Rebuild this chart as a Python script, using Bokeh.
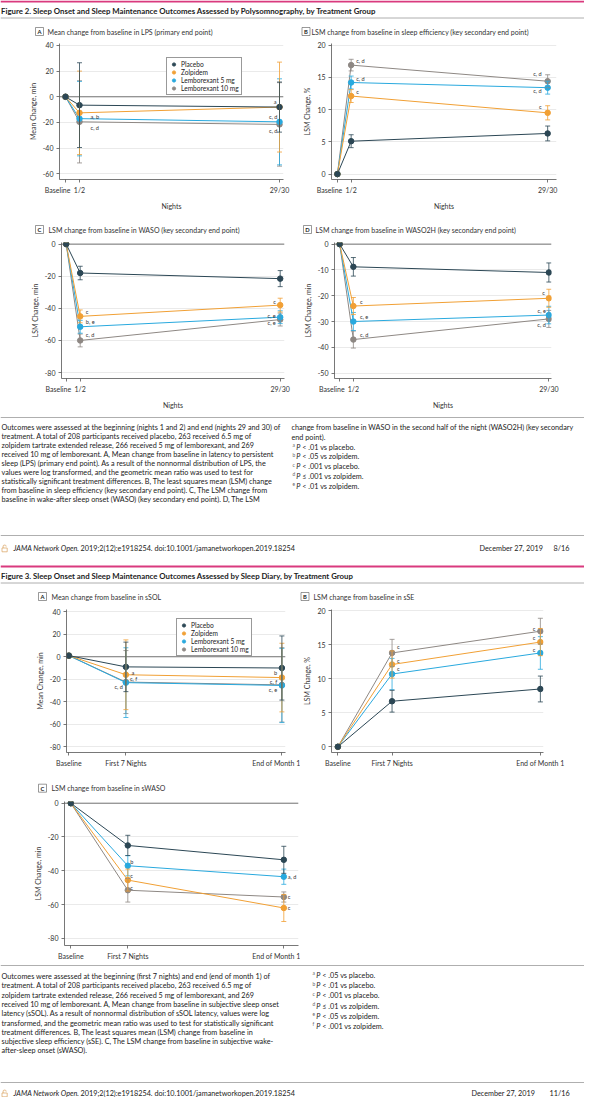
from bokeh.plotting import figure
from bokeh.layouts import column, row
from bokeh.models import (Range1d, FixedTicker, Span, Whisker, TeeHead,
                          ColumnDataSource, Legend, LegendItem)
from bokeh.core.properties import value
from bokeh.embed import file_html
from bokeh.resources import INLINE

FONT = "Lato"
SERIES = ["Placebo", "Zolpidem", "Lemborexant 5 mg", "Lemborexant 10 mg"]
COLORS = ["#2c4755", "#f1a035", "#29a9de", "#8e8884"]

F2_TIMES = ["Baseline", "1/2", "29/30"]
F3_TIMES = ["Baseline", "First 7 Nights", "End of Month 1"]

# ---- Figure 2 data (series order: placebo, zolpidem, L5, L10) ----
F2A_MEAN = [[0, -6.5, -8.0], [0, -12.5, -8.0], [0, -17.0, -19.5], [0, -19.5, -21.5]]
F2A_ERR = [[0, 33, 19.5], [0, 32.5, 35], [0, 29, 33.5], [0, 32, 32.5]]
F2B_MEAN = [[0, 5.1, 6.3], [0, 12.1, 9.5], [0, 14.2, 13.4], [0, 16.9, 14.4]]
F2B_ERR = [[0, 1.0, 1.15], [0, 1.0, 1.1], [0, 1.0, 1.0], [0, 0.9, 1.0]]
F2C_MEAN = [[0, -18.0, -21.5], [0, -45.0, -38.0], [0, -51.5, -45.5], [0, -60.0, -47.0]]
F2C_ERR = [[0, 4.2, 5.0], [0, 4.0, 4.3], [0, 4.0, 4.0], [0, 4.0, 4.0]]
F2D_MEAN = [[0, -8.8, -11.0], [0, -24.0, -21.0], [0, -30.0, -27.5], [0, -37.0, -29.0]]
F2D_ERR = [[0, 3.6, 3.7], [0, 3.3, 3.5], [0, 3.5, 3.4], [0, 3.3, 3.3]]

# ---- Figure 3 data ----
F3A_MEAN = [[1, -9.0, -10.0], [1, -16.0, -18.5], [1, -23.0, -25.5], [1, -22.5, -25.0]]
F3A_ERR = [[0, 22, 28.5], [0, 31, 30.5], [0, 31, 33], [0, 28, 33]]
F3B_MEAN = [[0, 6.7, 8.5], [0, 12.1, 15.4], [0, 10.7, 13.8], [0, 13.8, 17.0]]
F3B_ERR = [[0, 1.6, 1.9], [0, 2.0, 2.0], [0, 2.3, 2.4], [0, 2.0, 1.9]]
F3C_MEAN = [[0, -25.0, -33.5], [0, -45.5, -62.0], [0, -37.0, -43.5], [0, -51.5, -55.5]]
F3C_ERR = [[0, 6, 8], [0, 6.5, 8], [0, 6, 4.5], [0, 7, 3]]

# significance notes: (series, time index, text, align, dx px, dy px)
F2A_NOTES = [(1, 1, "a, b", "left", 11, 3.5), (3, 1, "c, d", "left", 11, 6),
             (0, 2, "a", "right", -3, -5.5), (1, 2, "c, d", "right", -2, 9.5),
             (3, 2, "c, d", "right", -2, 6.5)]
F2B_NOTES = [(3, 1, "c, d", "left", 5, -5), (2, 1, "c, d", "left", 5, -4.3),
             (1, 1, "c", "left", 5, -4.7), (3, 2, "c, d", "right", -6, -8),
             (2, 2, "c, d", "right", -6, 3), (1, 2, "c", "right", -6, -6)]
F2C_NOTES = [(1, 1, "c", "left", 5.6, -4.7), (2, 1, "b, e", "left", 5.6, -5),
             (3, 1, "c, d", "left", 5.6, -6), (1, 2, "c", "right", -4.4, -3.7),
             (2, 2, "c, e", "right", -4.4, -1.7), (3, 2, "c, e", "right", -4.4, 3)]
F2D_NOTES = [(1, 1, "c", "left", 6.6, -4.3), (2, 1, "c, e", "left", 6.6, -5),
             (3, 1, "c, d", "left", 6.6, -5), (1, 2, "c", "right", -4, -6),
             (2, 2, "c, e", "right", -3, -4.3), (3, 2, "c, d", "right", -3, 6)]
F3A_NOTES = [(1, 1, "a", "left", 5.6, -2), (2, 1, "c, f", "left", 4, -4),
             (3, 1, "c, d", "right", -3, 4.3), (1, 2, "b", "right", -4.7, -4.7),
             (2, 2, "c, f", "right", -4.7, -4.4), (3, 2, "c, e", "right", -4.7, 4.5)]
F3B_NOTES = [(3, 1, "c", "left", 5, -6.3), (1, 1, "c", "left", 5, -4.3),
             (2, 1, "c", "left", 5, -5.3), (3, 2, "c", "right", -5, -3),
             (1, 2, "c", "right", -5, -5), (2, 2, "c", "right", -5, -3.7)]
F3C_NOTES = [(2, 1, "b", "left", 2.5, -4.3), (1, 1, "c", "left", 2.5, -5),
             (3, 1, "c", "left", 2.5, -3), (2, 2, "a, d", "left", 4, 0),
             (3, 2, "c", "left", 4, 0), (1, 2, "c", "left", 4, 0)]

F2_TITLE = "Figure 2. Sleep Onset and Sleep Maintenance Outcomes Assessed by Polysomnography, by Treatment Group"
F3_TITLE = "Figure 3. Sleep Onset and Sleep Maintenance Outcomes Assessed by Sleep Diary, by Treatment Group"
F2_PANELS = [("A", "Mean change from baseline in LPS (primary end point)"),
             ("B", "LSM change from baseline in sleep efficiency (key secondary end point)"),
             ("C", "LSM change from baseline in WASO (key secondary end point)"),
             ("D", "LSM change from baseline in WASO2H (key secondary end point)")]
F3_PANELS = [("A", "Mean change from baseline in sSOL"),
             ("B", "LSM change from baseline in sSE"),
             ("C", "LSM change from baseline in sWASO")]
F2_CAPTION = [
    "Outcomes were assessed at the beginning (nights 1 and 2) and end (nights 29 and 30) of",
    "treatment. A total of 208 participants received placebo, 263 received 6.5 mg of",
    "zolpidem tartrate extended release, 266 received 5 mg of lemborexant, and 269",
    "received 10 mg of lemborexant. A, Mean change from baseline in latency to persistent",
    "sleep (LPS) (primary end point). As a result of the nonnormal distribution of LPS, the",
    "values were log transformed, and the geometric mean ratio was used to test for",
    "statistically significant treatment differences. B, The least squares mean (LSM) change",
    "from baseline in sleep efficiency (key secondary end point). C, The LSM change from",
    "baseline in wake-after sleep onset (WASO) (key secondary end point). D, The LSM"]
F2_CAPTION_R = ["change from baseline in WASO in the second half of the night (WASO2H) (key secondary",
                "end point)."]
F2_FOOTNOTES = [("a", "< .01 vs placebo."), ("b", "< .05 vs zolpidem."),
                ("c", "< .001 vs placebo."), ("d", "\u2264 .001 vs zolpidem."),
                ("e", "< .01 vs zolpidem.")]
F3_CAPTION = [
    "Outcomes were assessed at the beginning (first 7 nights) and end (end of month 1) of",
    "treatment. A total of 208 participants received placebo, 263 received 6.5 mg of",
    "zolpidem tartrate extended release, 266 received 5 mg of lemborexant, and 269",
    "received 10 mg of lemborexant. A, Mean change from baseline in subjective sleep onset",
    "latency (sSOL). As a result of nonnormal distribution of sSOL latency, values were log",
    "transformed, and the geometric mean ratio was used to test for statistically significant",
    "treatment differences. B, The least squares mean (LSM) change from baseline in",
    "subjective sleep efficiency (sSE). C, The LSM change from baseline in subjective wake-",
    "after-sleep onset (sWASO)."]
F3_FOOTNOTES = [("a", "< .05 vs placebo."), ("b", "< .01 vs placebo."),
                ("c", "< .001 vs placebo."), ("d", "\u2264 .01 vs zolpidem."),
                ("e", "< .05 vs zolpidem."), ("f", "< .001 vs zolpidem.")]
JOURNAL = "JAMA Network Open"
CITATION = ". 2019;2(12):e1918254. doi:10.1001/jamanetworkopen.2019.18254"
DATE = "December 27, 2019"
PAGES = ["8/16", "11/16"]

# ---- layout constants ----
F2_XPOS = [0, 14, 214]
F3_XPOS = [0, 57, 213]
PINK = "#d93a7e"
RULE = "#9a9a9a"
INK = "#222222"
CAP = "7.25px"
EMSP = "\u2003"


def chart(w, h, left, top, bottom, xr, yr, xpos, times, means, errs, yticks,
          ylabel, xlabel, notes, legend_xy=None, zero=True, shift_first=False):
    fw = int(round(xr[1] - xr[0]))
    right = w - left - fw
    p = figure(width=w, height=h, x_range=Range1d(*xr), y_range=Range1d(*yr),
               output_backend="svg", toolbar_location=None, title=None,
               min_border_left=left, min_border_right=right,
               min_border_top=top, min_border_bottom=bottom)
    p.outline_line_color = None
    p.xgrid.visible = False
    p.ygrid.grid_line_color = "#e4e4e4"
    p.ygrid.grid_line_width = 0.8
    p.yaxis.ticker = FixedTicker(ticks=yticks)
    p.yaxis.major_label_overrides = {t: str(t) for t in yticks}
    p.xaxis.ticker = FixedTicker(ticks=xpos)
    labels = {x: t for x, t in zip(xpos, times)}
    if shift_first:
        # the first tick label sits left of its tick, as in the original
        labels[xpos[0]] = times[0] + EMSP * 3
    p.xaxis.major_label_overrides = labels
    for ax in p.axis:
        ax.axis_line_color = "#555555"
        ax.axis_line_width = 0.8
        ax.major_tick_line_color = "#555555"
        ax.major_tick_line_width = 0.8
        ax.major_tick_out = 3
        ax.major_tick_in = 0
        ax.minor_tick_out = 0
        ax.major_label_text_font = FONT
        ax.major_label_text_font_size = "7px"
        ax.major_label_text_color = "#333333"
        ax.major_label_standoff = 3
        ax.axis_label_text_font = FONT
        ax.axis_label_text_font_size = "7px"
        ax.axis_label_text_font_style = "normal"
        ax.axis_label_text_color = "#333333"
    p.yaxis.axis_label = ylabel
    p.yaxis.axis_label_standoff = 3
    if xlabel:
        p.xaxis.axis_label = xlabel
        p.xaxis.axis_label_standoff = 5
    if zero:
        p.add_layout(Span(location=0, dimension="width", line_color="#555555",
                          line_width=0.8, level="underlay"))
    order = [3, 2, 1, 0]
    for i in order:
        p.line(xpos, means[i], line_color=COLORS[i], line_width=1.0)
    for i in order:
        xs = [x for x, e in zip(xpos, errs[i]) if e > 0]
        lo = [m - e for m, e in zip(means[i], errs[i]) if e > 0]
        hi = [m + e for m, e in zip(means[i], errs[i]) if e > 0]
        src = ColumnDataSource(dict(x=xs, lower=lo, upper=hi))
        p.add_layout(Whisker(source=src, base="x", lower="lower", upper="upper",
                             line_color=COLORS[i], line_width=0.8, level="glyph",
                             upper_head=TeeHead(size=5, line_color=COLORS[i], line_width=0.8),
                             lower_head=TeeHead(size=5, line_color=COLORS[i], line_width=0.8)))
    scat = {}
    for i in order:
        scat[i] = p.scatter(xpos, means[i], size=5.5, fill_color=COLORS[i],
                            line_color=COLORS[i])
    for al in ("left", "right"):
        sel = [n for n in notes if n[3] == al]
        for (si, ti, s, _, dx, dy) in sel:
            p.text(x=[xpos[ti]], y=[means[si][ti]], text=[s], x_offset=dx, y_offset=dy,
                   text_align=al, text_baseline="middle", text_font=value(FONT),
                   text_font_size=value("5.6px"), text_color="#333333")
    if legend_xy is not None:
        leg = Legend(items=[LegendItem(label=SERIES[i], renderers=[scat[i]]) for i in range(4)],
                     location=legend_xy, orientation="vertical",
                     label_text_font=FONT, label_text_font_size="6.6px",
                     label_text_color=INK, glyph_width=9, glyph_height=8,
                     label_height=7, label_standoff=3, spacing=0, padding=2, margin=0,
                     border_line_color="#333333", border_line_width=0.8,
                     background_fill_color="white", background_fill_alpha=1.0)
        p.add_layout(leg)
    return p


def tfig(h, w=584):
    p = figure(width=w, height=h, x_range=Range1d(0, w), y_range=Range1d(h, 0),
               output_backend="svg", toolbar_location=None, title=None,
               x_axis_location=None, y_axis_location=None,
               min_border_left=0, min_border_right=0, min_border_top=0, min_border_bottom=0)
    p.grid.visible = False
    p.outline_line_color = None
    return p


def put(p, x, y, s, size=CAP, style="normal", color=INK, align="left"):
    p.text(x=[x], y=[y], text=[s], text_font=value(FONT), text_font_size=value(size),
           text_font_style=style, text_color=color, text_align=align,
           text_baseline="middle")


def rule(p, y, x0=0, x1=584, color=RULE, width=0.8):
    p.segment(x0=[x0], y0=[y], x1=[x1], y1=[y], line_color=color, line_width=width)


def panel_label(p, cx, cy, letter, tx, text):
    p.rect(x=[cx], y=[cy], width=8, height=8, fill_color="white",
           line_color="#555555", line_width=0.6)
    put(p, cx, cy + 0.3, letter, size="5.8px", style="bold", align="center")
    put(p, tx, cy, text, size="7px", color="#333333")


def footnotes(p, x, y0, dy, notes):
    for k, (sup, rest) in enumerate(notes):
        y = y0 + k * dy
        put(p, x, y - 2.2, sup, size="4.8px", color="#666666")
        put(p, x + 3.8, y, "P", style="italic")
        put(p, x + 9.8, y, rest)


def footer(p, y, page, date_x, page_x):
    p.line([2.6, 2.6, 3.3, 4.9, 5.6, 5.6], [y - 0.5, y - 2.6, y - 3.4, y - 3.4, y - 2.6, y - 1.9],
           line_color="#d9a05b", line_width=0.7)
    p.rect(x=[4.1], y=[y + 1.4], width=5.2, height=3.8, fill_color=None,
           line_color="#d9a05b", line_width=0.7)
    put(p, 13, y, JOURNAL, style="italic")
    put(p, 76.5, y, CITATION)
    put(p, date_x, y, DATE)
    put(p, page_x, y, page)


# ---------------- Figure 2 ----------------
t1 = tfig(37)
rule(t1, 1, color=PINK, width=2)
put(t1, 0.5, 10, F2_TITLE, size="7.8px", style="bold")
rule(t1, 17.5)
panel_label(t1, 39, 31, F2_PANELS[0][0], 47, F2_PANELS[0][1])
panel_label(t1, 305.5, 31, F2_PANELS[1][0], 311, F2_PANELS[1][1])

pA = chart(300, 175, 59, 6, 26, (-6, 218), (-64.4, 41.5), F2_XPOS, F2_TIMES,
           F2A_MEAN, F2A_ERR, [40, 20, 0, -20, -40, -60], "Mean Change, min", "Nights",
           F2A_NOTES, legend_xy=(107, 84), shift_first=True)
pB = chart(284, 175, 27, 6, 26, (-6, 223), (-0.84, 20.25), F2_XPOS, F2_TIMES,
           F2B_MEAN, F2B_ERR, [0, 5, 10, 15, 20], "LSM Change, %", "Nights",
           F2B_NOTES, zero=False, shift_first=True)

t2 = tfig(25)
panel_label(t2, 39, 17, F2_PANELS[2][0], 48, F2_PANELS[2][1])
panel_label(t2, 307, 17, F2_PANELS[3][0], 315, F2_PANELS[3][1])

pC = chart(300, 174, 61, 5, 26, (-4.7, 218.3), (-83.7, 1.0), F2_XPOS, F2_TIMES,
           F2C_MEAN, F2C_ERR, [0, -20, -40, -60, -80], "LSM Change, min", "Nights",
           F2C_NOTES, shift_first=True)
pD = chart(284, 174, 29, 5, 26, (-5.3, 216.7), (-52.1, 0.63), F2_XPOS, F2_TIMES,
           F2D_MEAN, F2D_ERR, [0, -10, -20, -30, -40, -50], "LSM Change, min", "Nights",
           F2D_NOTES, shift_first=True)

t3 = tfig(146)
rule(t3, 6)
for k, line in enumerate(F2_CAPTION):
    put(t3, 1, 16 + 9 * k, line)
for k, line in enumerate(F2_CAPTION_R):
    put(t3, 291, 16 + 9.8 * k, line)
footnotes(t3, 292, 16 + 9.8 * 2, 9.8, F2_FOOTNOTES)
rule(t3, 124)
footer(t3, 137, PAGES[0], 479, 553)

# ---------------- Figure 3 ----------------
t4 = tfig(47)
rule(t4, 9, color=PINK, width=2)
put(t4, 0.5, 18, F3_TITLE, size="7.8px", style="bold")
rule(t4, 25.5)
panel_label(t4, 42, 39, F3_PANELS[0][0], 51, F3_PANELS[0][1])
panel_label(t4, 304.5, 39, F3_PANELS[1][0], 313, F3_PANELS[1][1])

p3A = chart(300, 168, 66, 5, 20, (-2.4, 216.6), (-85.1, 42.0), F3_XPOS, F3_TIMES,
            F3A_MEAN, F3A_ERR, [40, 20, 0, -20, -40, -60, -80], "Mean Change, min", None,
            F3A_NOTES, legend_xy=(110, 96))
p3B = chart(284, 168, 20, 5, 20, (-6.7, 216.3), (-0.84, 20.19), F3_XPOS, F3_TIMES,
            F3B_MEAN, F3B_ERR, [0, 5, 10, 15, 20], "LSM Change, %", None,
            F3B_NOTES, zero=False)

t5 = tfig(24)
panel_label(t5, 42, 15.7, F3_PANELS[2][0], 51, F3_PANELS[2][1])

p3C = chart(300, 168, 64, 5, 19, (-6.3, 227.7), (-84.2, 1.0), F3_XPOS, F3_TIMES,
            F3C_MEAN, F3C_ERR, [0, -20, -40, -60, -80], "LSM Change, min", None,
            F3C_NOTES)

t6 = tfig(133)
rule(t6, 1)
for k, line in enumerate(F3_CAPTION):
    put(t6, 1, 12 + 9.3 * k, line)
footnotes(t6, 312, 11, 10.2, F3_FOOTNOTES)
rule(t6, 118)
footer(t6, 129, PAGES[1], 471, 549)

page = column(t1, row(pA, pB), t2, row(pC, pD), t3, t4, row(p3A, p3B), t5, row(p3C), t6)

open("out.html", "w").write(file_html(page, INLINE))
